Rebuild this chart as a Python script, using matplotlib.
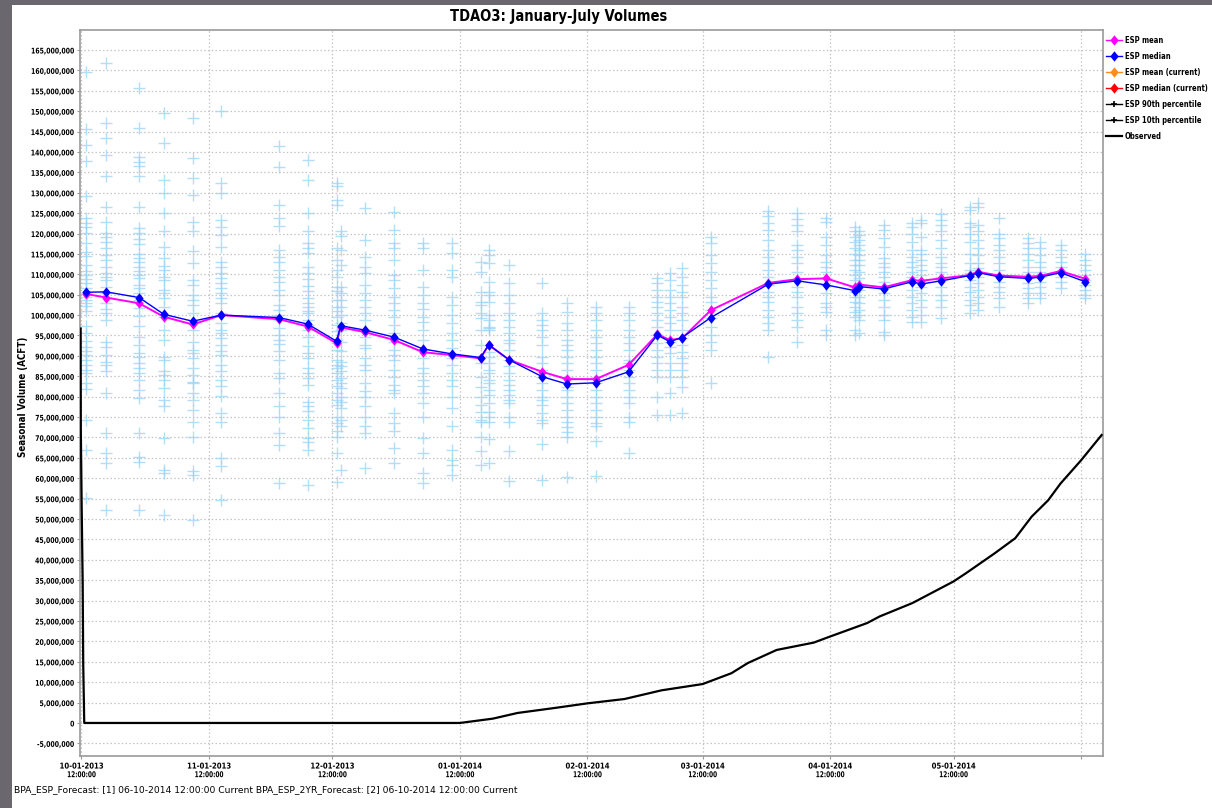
import datetime as dt

import matplotlib
matplotlib.use("Agg")
import matplotlib.pyplot as plt
from matplotlib.lines import Line2D
from matplotlib.patches import Rectangle
from matplotlib.path import Path
from matplotlib.patheffects import AbstractPathEffect
from matplotlib.ticker import FuncFormatter, MultipleLocator
from matplotlib.transforms import Affine2D

# ---------------------------------------------------------------- data (million acre-feet)
forecast_dates = [
    "2013-10-02", "2013-10-07", "2013-10-15", "2013-10-21", "2013-10-28", "2013-11-04",
    "2013-11-18", "2013-11-25", "2013-12-02", "2013-12-03", "2013-12-09", "2013-12-16",
    "2013-12-23", "2013-12-30", "2014-01-06", "2014-01-08", "2014-01-13", "2014-01-21",
    "2014-01-27", "2014-02-03", "2014-02-11", "2014-02-18", "2014-02-21", "2014-02-24",
    "2014-03-03", "2014-03-17", "2014-03-24", "2014-03-31", "2014-04-07", "2014-04-08",
    "2014-04-14", "2014-04-21", "2014-04-23", "2014-04-28", "2014-05-05", "2014-05-07",
    "2014-05-12", "2014-05-19", "2014-05-22", "2014-05-27", "2014-06-02",
]

esp_mean = [
    105.2, 104.3, 102.9, 99.6, 97.7, 100.0, 99.0, 97.2, 93.1, 97.0, 95.8, 93.9, 90.9, 90.2,
    89.4, 92.7, 89.0, 86.1, 84.3, 84.3, 87.8, 95.3, 93.9, 94.3, 101.2, 107.9, 108.8, 109.0,
    106.8, 107.5, 106.8, 108.6, 108.4, 109.0, 109.8, 110.6, 109.7, 109.4, 109.6, 110.8, 108.9,
]

esp_median = [
    105.6, 105.7, 104.3, 100.2, 98.5, 100.0, 99.4, 97.8, 93.6, 97.4, 96.3, 94.6, 91.7, 90.5,
    89.6, 92.7, 89.0, 84.9, 83.1, 83.4, 86.1, 95.1, 93.5, 94.5, 99.4, 107.6, 108.4, 107.4,
    106.0, 107.0, 106.4, 108.2, 107.6, 108.4, 109.7, 110.4, 109.4, 109.0, 109.3, 110.4, 108.2,
]

# ensemble trace volumes for each forecast date (same order as forecast_dates)
esp_traces = [
    [159.5, 145.6, 141.7, 137.9, 129.2, 123.7, 122.7, 121.5, 120.1, 117.6, 115.4, 114.5, 112.3,
     110.7, 109.9, 108.8, 107.8, 106.6, 105.5, 104.5, 103.7, 102.9, 102.3, 101.1, 97.4, 95.7,
     93.7, 92.3, 91.1, 90.2, 89.0, 87.8, 86.6, 85.8, 83.3, 81.8, 74.3, 67.0, 55.1],
    [161.7, 147.0, 143.3, 139.3, 134.0, 126.4, 122.9, 120.1, 119.1, 118.0, 116.4, 114.8, 113.5,
     111.9, 110.3, 109.3, 108.6, 107.0, 105.4, 102.9, 101.4, 100.5, 98.8, 93.5, 92.3, 90.2,
     88.6, 87.8, 86.2, 80.8, 71.0, 66.1, 63.7, 52.3],
    [155.8, 145.8, 138.7, 137.5, 136.6, 134.1, 126.6, 121.3, 120.2, 118.6, 117.4, 115.1, 113.9,
     112.9, 111.9, 110.7, 109.9, 109.0, 107.4, 106.6, 105.4, 103.7, 101.7, 99.8, 97.4, 94.7,
     92.7, 90.7, 89.8, 88.2, 87.0, 85.8, 84.1, 81.7, 79.6, 71.0, 65.3, 64.1, 52.3],
    [149.5, 142.1, 133.1, 129.9, 125.0, 120.5, 116.8, 113.9, 112.1, 111.1, 109.3, 108.6, 106.2,
     105.4, 104.1, 102.1, 99.6, 96.4, 93.9, 89.8, 89.0, 86.2, 85.3, 84.1, 82.1, 79.2, 77.6,
     69.8, 62.1, 61.2, 51.0],
    [148.3, 138.4, 133.5, 129.5, 122.9, 120.5, 115.6, 112.7, 108.6, 107.4, 104.9, 103.7, 102.5,
     100.5, 98.0, 96.4, 93.5, 91.5, 90.7, 89.4, 87.0, 85.3, 83.7, 83.3, 80.8, 79.2, 76.8, 73.9,
     70.2, 61.7, 60.9, 49.8],
    [150.1, 132.5, 129.9, 123.3, 121.7, 119.7, 116.8, 113.1, 111.9, 110.3, 109.0, 107.8, 106.6,
     105.4, 104.1, 102.9, 100.5, 98.0, 96.4, 95.6, 94.3, 92.7, 91.1, 90.2, 87.8, 86.2, 84.1,
     82.5, 80.2, 76.0, 73.9, 65.0, 62.9, 54.7],
    [141.5, 136.4, 127.0, 123.7, 121.9, 116.0, 114.3, 113.1, 111.1, 109.4, 108.2, 106.2, 104.9,
     102.5, 101.3, 100.0, 98.8, 96.8, 95.0, 93.9, 92.9, 91.1, 89.0, 85.8, 84.5, 81.0, 77.6,
     75.1, 71.0, 68.2, 58.8],
    [138.0, 133.1, 125.0, 120.5, 117.6, 116.4, 115.2, 111.9, 110.3, 108.8, 107.2, 105.8, 104.1,
     102.9, 102.1, 101.1, 100.5, 98.8, 97.6, 96.4, 94.7, 92.4, 90.7, 89.4, 87.0, 85.8, 84.5,
     82.9, 78.8, 77.6, 76.4, 74.3, 72.3, 69.8, 69.0, 67.0, 58.4],
    [132.3, 131.7, 128.2, 127.0, 116.4, 113.5, 111.1, 109.4, 107.0, 105.8, 103.7, 102.1, 100.9,
     99.6, 97.6, 96.0, 93.9, 91.5, 89.0, 87.8, 87.0, 85.8, 84.1, 82.5, 80.8, 79.2, 78.0, 75.1,
     73.5, 71.5, 70.2, 66.1, 59.2],
    [120.5, 119.3, 116.0, 112.3, 107.0, 105.4, 103.7, 102.1, 100.0, 98.0, 96.4, 93.5, 91.1,
     88.6, 87.4, 86.2, 84.5, 83.3, 82.1, 80.0, 78.8, 77.2, 74.3, 72.7, 62.1],
    [126.2, 118.4, 114.3, 111.9, 110.3, 107.4, 105.4, 103.7, 102.1, 100.5, 98.8, 96.4, 94.7,
     92.7, 91.9, 89.4, 87.8, 86.6, 83.3, 81.3, 80.0, 77.6, 75.1, 72.7, 71.0, 62.5],
    [125.4, 120.9, 117.6, 116.4, 113.5, 109.9, 108.6, 106.6, 104.5, 102.9, 101.3, 99.6, 97.6,
     95.6, 93.5, 91.5, 90.2, 89.0, 86.6, 84.9, 82.9, 81.7, 80.8, 76.0, 73.5, 71.5, 67.4, 63.7],
    [117.6, 116.4, 111.1, 107.0, 104.9, 102.9, 101.4, 99.6, 98.4, 96.4, 93.9, 91.5, 89.4, 87.0,
     85.8, 84.1, 82.5, 80.8, 78.4, 75.1, 69.8, 66.1, 61.2, 58.8],
    [117.6, 115.2, 111.1, 109.4, 104.5, 102.5, 100.0, 98.0, 95.6, 93.9, 91.9, 89.4, 87.8, 85.8,
     84.1, 82.5, 80.0, 77.2, 72.7, 67.0, 64.5, 63.3, 60.8],
    [113.1, 110.6, 105.7, 103.3, 102.5, 100.4, 99.2, 96.3, 92.7, 88.2, 84.9, 82.4, 80.0, 78.0,
     76.3, 74.3, 73.9, 70.2, 66.8, 63.3],
    [116.0, 114.7, 112.7, 108.2, 105.7, 104.9, 103.3, 100.0, 98.8, 97.2, 96.8, 96.3, 91.0, 89.8,
     88.2, 86.5, 85.7, 84.1, 83.3, 81.6, 80.4, 78.4, 76.3, 75.1, 73.9, 69.5, 63.7],
    [112.3, 107.8, 104.9, 102.9, 100.4, 98.8, 97.2, 95.5, 93.9, 93.1, 91.4, 89.0, 87.4, 85.7,
     84.1, 82.9, 81.6, 80.4, 79.2, 78.4, 75.1, 73.9, 66.8, 59.3],
    [107.8, 100.4, 98.8, 97.6, 96.3, 94.7, 92.7, 89.8, 88.2, 86.5, 84.9, 83.3, 81.6, 80.0, 79.2,
     78.0, 75.9, 74.3, 73.5, 68.4, 59.6],
    [102.9, 100.8, 98.0, 96.3, 93.9, 92.7, 91.4, 89.8, 88.2, 86.5, 84.9, 82.4, 81.6, 80.0, 78.4,
     76.7, 75.1, 73.9, 72.6, 71.4, 70.2, 60.4],
    [102.1, 100.4, 98.8, 96.3, 94.7, 93.1, 91.4, 89.8, 88.2, 86.5, 84.9, 83.3, 81.6, 80.0, 78.4,
     76.7, 75.1, 73.5, 72.8, 69.2, 60.6],
    [102.1, 100.4, 98.8, 96.3, 94.7, 93.1, 91.4, 89.0, 88.2, 86.5, 84.9, 83.3, 81.6, 80.0, 78.4,
     75.1, 73.9, 66.1],
    [109.0, 107.8, 106.2, 104.5, 103.3, 102.1, 100.4, 98.8, 97.2, 95.1, 93.1, 91.4, 89.8, 88.2,
     86.5, 84.9, 80.0, 75.5],
    [110.2, 108.6, 106.2, 104.5, 102.9, 101.2, 99.6, 98.0, 96.3, 93.5, 92.2, 90.6, 88.2, 86.5,
     84.9, 80.8, 75.5],
    [111.5, 109.4, 107.4, 105.7, 104.5, 102.1, 100.4, 98.8, 96.3, 94.3, 92.7, 91.0, 89.4, 88.2,
     86.5, 84.9, 82.4, 75.9],
    [119.2, 117.6, 114.7, 112.7, 110.6, 108.6, 106.6, 104.5, 103.3, 101.2, 99.2, 97.2, 95.1,
     93.5, 91.4, 83.3],
    [125.5, 124.2, 122.5, 120.9, 118.4, 116.0, 114.3, 112.7, 111.1, 109.4, 107.4, 105.7, 104.5,
     103.3, 101.2, 99.6, 98.0, 96.3, 89.8],
    [125.0, 123.5, 122.0, 120.5, 117.2, 116.0, 114.3, 112.7, 110.6, 108.6, 107.0, 105.7, 104.5,
     102.1, 100.4, 98.8, 97.2, 93.5],
    [123.7, 122.9, 119.2, 117.2, 114.7, 113.1, 111.9, 110.6, 109.0, 107.4, 105.3, 102.9, 102.1,
     100.8, 96.3, 95.1],
    [121.7, 120.5, 119.2, 118.0, 116.4, 115.1, 113.5, 112.3, 111.1, 109.8, 108.6, 107.0, 105.7,
     104.5, 103.3, 102.1, 100.8, 99.6, 96.3, 95.1],
    [120.5, 119.6, 118.4, 117.2, 115.9, 114.7, 113.5, 112.3, 110.6, 109.0, 107.4, 106.2, 104.5,
     102.9, 101.2, 100.0, 98.8, 95.5],
    [122.1, 120.9, 118.8, 116.8, 113.9, 112.7, 111.9, 110.6, 109.4, 108.2, 106.6, 105.3, 103.7,
     102.1, 100.0, 98.8, 95.9, 95.1],
    [122.5, 121.7, 120.0, 118.0, 116.0, 114.3, 113.1, 111.9, 110.6, 109.4, 107.8, 106.2, 104.5,
     102.9, 101.2, 99.6, 98.4],
    [123.3, 122.5, 119.2, 116.0, 115.1, 113.5, 112.3, 111.1, 109.8, 108.6, 107.0, 105.3, 103.7,
     102.1, 100.0, 98.4],
    [124.9, 123.3, 122.1, 120.5, 118.4, 116.4, 114.3, 112.7, 111.9, 110.6, 109.4, 108.6, 107.0,
     104.9, 103.7, 102.1, 99.2],
    [126.6, 125.8, 122.5, 121.7, 120.0, 118.0, 115.1, 112.7, 111.1, 110.2, 108.6, 107.0, 105.7,
     103.7, 102.5, 100.4],
    [127.4, 126.6, 122.1, 120.5, 118.4, 116.4, 114.7, 112.7, 111.5, 110.6, 109.4, 107.8, 106.2,
     104.5, 102.9, 101.3],
    [123.7, 120.0, 118.8, 117.2, 116.0, 114.3, 112.7, 111.1, 109.8, 108.2, 107.0, 105.7, 104.1,
     102.1],
    [118.8, 117.6, 116.4, 115.1, 113.5, 111.9, 110.6, 109.0, 107.8, 106.6, 105.3, 104.1, 102.9],
    [118.0, 116.4, 114.7, 113.1, 111.9, 110.6, 109.4, 108.2, 107.0, 105.3, 104.1],
    [117.2, 116.0, 114.3, 113.1, 111.9, 110.6, 109.4, 108.2, 106.6],
    [115.0, 113.5, 112.3, 111.1, 109.8, 108.6, 107.4, 106.2, 104.9, 104.1],
]

observed_times = [
    "2013-10-01 07:00", "2013-10-01 08:00", "2013-10-01 13:00", "2013-10-01 19:00",
    "2013-10-01 22:00", "2013-10-02 04:00", "2014-01-01 12:00", "2014-01-09 12:00",
    "2014-01-15 12:00", "2014-01-24 12:00", "2014-02-01 12:00", "2014-02-10 12:00",
    "2014-02-19 12:00", "2014-03-01 12:00", "2014-03-08 12:00", "2014-03-12 12:00",
    "2014-03-19 12:00", "2014-03-28 12:00", "2014-04-01 12:00", "2014-04-10 12:00",
    "2014-04-13 12:00", "2014-04-21 12:00", "2014-05-01 12:00", "2014-05-04 12:00",
    "2014-05-11 12:00", "2014-05-16 12:00", "2014-05-20 12:00", "2014-05-24 12:00",
    "2014-05-27 12:00", "2014-06-01 12:00", "2014-06-06 12:00",
]
observed = [
    96.7, 72.0, 53.0, 34.0, 14.6, 0.0, 0.0, 1.06, 2.45, 3.67, 4.81, 5.87, 8.0, 9.54, 12.2,
    14.7, 17.9, 19.7, 21.2, 24.5, 26.1, 29.4, 34.7, 36.7, 41.6, 45.3, 50.6, 54.6, 58.7, 64.4,
    70.6,
]

month_ticks = ["2013-10-01", "2013-11-01", "2013-12-01", "2014-01-01", "2014-02-01",
               "2014-03-01", "2014-04-01", "2014-05-01", "2014-06-01"]

legend_labels = ["ESP mean", "ESP median", "ESP mean (current)", "ESP median (current)",
                 "ESP 90th percentile", "ESP 10th percentile", "Observed"]


# ---------------------------------------------------------------- helpers
class Narrow(AbstractPathEffect):
    """Draw text glyphs squeezed horizontally, keeping the chosen anchor fixed."""

    def __init__(self, sx=0.85, anchor="left"):
        super().__init__()
        self.sx = sx
        self.anchor = anchor

    def draw_path(self, renderer, gc, tpath, affine, rgbFace=None):
        ext = tpath.get_extents()
        frac = {"left": 0.0, "center": 0.5, "right": 1.0}[self.anchor]
        shift = frac * (1 - self.sx) * ext.x1
        tr = Affine2D().scale(self.sx, 1).translate(shift, 0) + affine
        renderer.draw_path(gc, tpath, tr, rgbFace)


FONT = "DejaVu Sans"
COND = dict(family=FONT, stretch="condensed", weight="bold")
SCALE = 1e6
W, H = 1212, 808


def fx(px):
    return px / W


def fy(py):
    return 1 - py / H


def noon(day):
    return dt.datetime.strptime(day, "%Y-%m-%d") + dt.timedelta(hours=12)


# tall diamond marker
DIAMOND = Path([(0, 1), (0.8, 0), (0, -1), (-0.8, 0), (0, 1)],
               [Path.MOVETO, Path.LINETO, Path.LINETO, Path.LINETO, Path.CLOSEPOLY])

fc_t = [noon(d) for d in forecast_dates]
obs_t = [dt.datetime.strptime(s, "%Y-%m-%d %H:%M") for s in observed_times]

fig = plt.figure(figsize=(W / 100, H / 100), dpi=100, facecolor="white")
# dark window frame on the left and top edges
fig.patches.append(Rectangle((0, 0), fx(12), 1, transform=fig.transFigure,
                             facecolor="#6a676f", edgecolor="none", zorder=0))
fig.patches.append(Rectangle((0, fy(5)), 1, 5 / H, transform=fig.transFigure,
                             facecolor="#6a676f", edgecolor="none", zorder=0))

ax = fig.add_axes([fx(80), fy(756), fx(1102.5) - fx(80), fy(30) - fy(756)])
ax.set_facecolor("white")

# ensemble traces
for t, vals in zip(fc_t, esp_traces):
    ax.plot([t] * len(vals), [v * SCALE for v in vals], linestyle="none", marker="+",
            markersize=8, markeredgewidth=1.0, color="#9ad3f7", alpha=0.75, zorder=2)

# observed
ax.plot(obs_t, [v * SCALE for v in observed], color="black", linewidth=1.6, zorder=3)

# mean and median
ax.plot(fc_t, [v * SCALE for v in esp_mean], color="#ff00ff", linewidth=1.4, marker=DIAMOND,
        markersize=7.5, markeredgewidth=0, zorder=4)
ax.plot(fc_t, [v * SCALE for v in esp_median], color="#0000ff", linewidth=1.0, marker=DIAMOND,
        markersize=7.5, markeredgewidth=0, zorder=5)

# axes ranges
ax.set_xlim(dt.datetime(2013, 10, 1, 3, 15), dt.datetime(2014, 6, 6, 17, 0))
ax.set_ylim(-8.1e6, 169.9e6)

ax.yaxis.set_major_locator(MultipleLocator(5e6))
ax.yaxis.set_major_formatter(FuncFormatter(lambda v, p: f"{v:,.0f}"))

# month ticks: date on the first line, time of day on the second
ticks = [noon(d) for d in month_ticks]
ax.set_xticks(ticks)
ax.set_xticklabels([dt.datetime.strptime(d, "%Y-%m-%d").strftime("%m-%d-%Y")
                    for d in month_ticks[:-1]] + [""])
ax.xaxis.remove_overlapping_locs = False
ax.set_xticks(ticks, minor=True)
ax.set_xticklabels(["12:00:00"] * (len(month_ticks) - 1) + [""], minor=True)

for lab in ax.get_yticklabels():
    lab.set(fontsize=5.6, **COND)
    lab.set_path_effects([Narrow(0.88, "right")])
for lab in ax.get_xticklabels():
    lab.set(fontsize=5.8, **COND)
    lab.set_path_effects([Narrow(0.95, "center")])
for lab in ax.get_xticklabels(minor=True):
    lab.set(fontsize=5.8, **COND)
    lab.set_path_effects([Narrow(0.8, "center")])

ax.tick_params(axis="both", which="major", length=2, width=0.8, color="#9a9a9a", pad=2)
ax.tick_params(axis="x", which="minor", length=0, pad=10.2)
ax.grid(True, which="major", color="#c4c4c4", linestyle=(0, (1.2, 1.8)), linewidth=0.9)
ax.set_axisbelow(True)
for s in ax.spines.values():
    s.set_color("#9a9a9a")
    s.set_linewidth(1.2)

# title, axis label and footer
fig.text(fx(559), fy(17), "TDAO3: January-July Volumes", ha="center", va="center",
         fontsize=10.5, **COND)
fig.text(fx(23.5), fy(397), "Seasonal Volume (ACFT)", ha="center", va="center", rotation=90,
         fontsize=7.0, **COND)
fig.text(fx(14), fy(790), "BPA_ESP_Forecast: [1] 06-10-2014 12:00:00 Current "
         "BPA_ESP_2YR_Forecast: [2] 06-10-2014 12:00:00 Current",
         ha="left", va="center", fontsize=6.6, family=FONT)

# legend
handles = [
    Line2D([], [], color="#ff00ff", marker=DIAMOND, markersize=7.5, markeredgewidth=0, lw=1.0),
    Line2D([], [], color="#0000ff", marker=DIAMOND, markersize=7.5, markeredgewidth=0, lw=1.0),
    Line2D([], [], color="#ff8c1a", marker=DIAMOND, markersize=7.5, markeredgewidth=0, lw=1.0),
    Line2D([], [], color="#ff0000", marker=DIAMOND, markersize=7.5, markeredgewidth=0, lw=1.0),
    Line2D([], [], color="black", marker="+", markersize=5, markeredgewidth=1.2, lw=1.0),
    Line2D([], [], color="black", marker="+", markersize=5, markeredgewidth=1.2, lw=1.0),
    Line2D([], [], color="black", lw=1.6),
]
leg = fig.legend(handles, legend_labels, loc="upper left",
                 bbox_to_anchor=(fx(1104), fy(34)), frameon=False, borderpad=0.2,
                 borderaxespad=0, handlelength=2.1, handletextpad=0.4, labelspacing=0.92,
                 prop=dict(size=5.5, **COND))

fig.savefig("out.png", dpi=100, facecolor="white")
